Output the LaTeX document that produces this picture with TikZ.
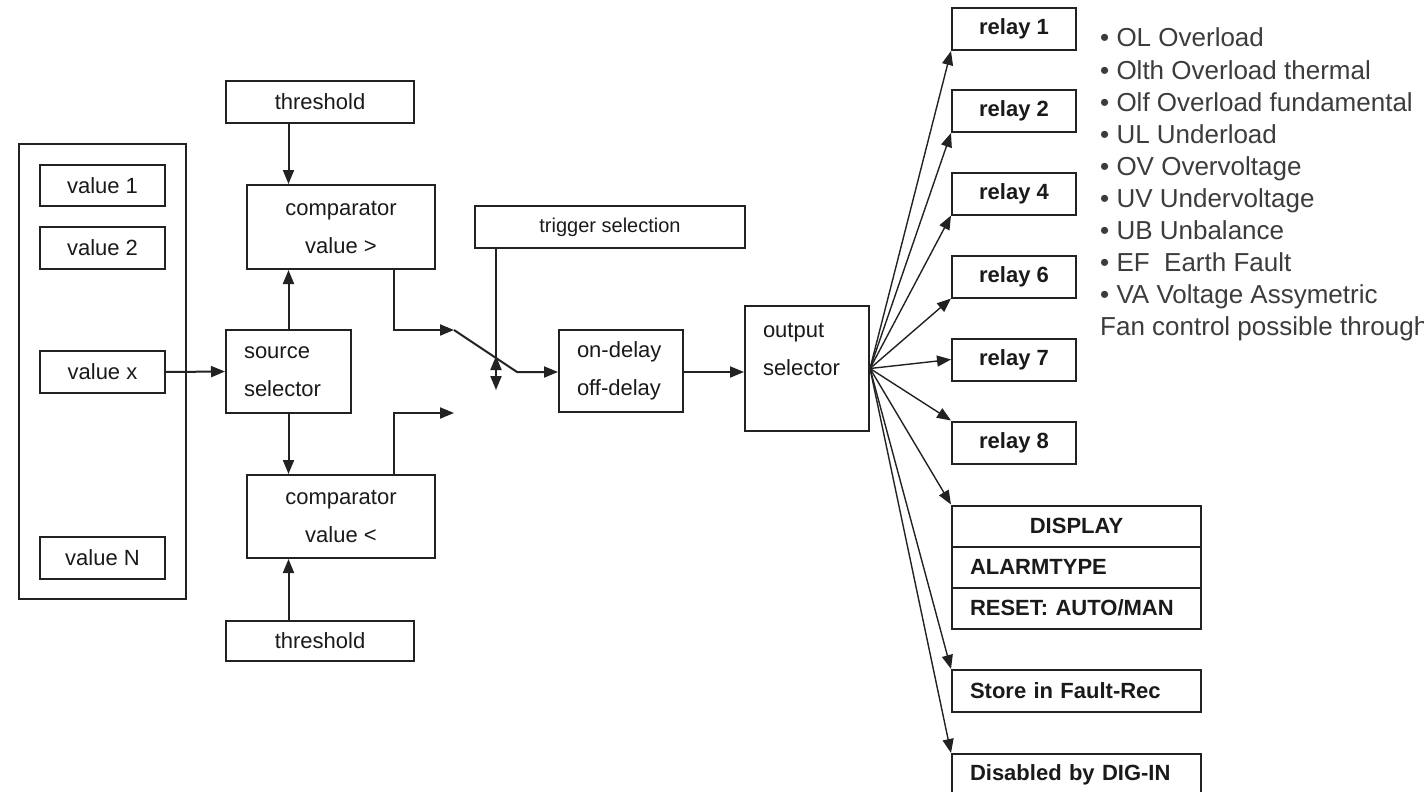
\documentclass[tikz,border=0pt]{standalone}
\usepackage{fontspec}
\setmainfont{Liberation Sans}
\usetikzlibrary{arrows.meta,calc}
\definecolor{edge}{HTML}{222222}
\definecolor{ink}{HTML}{1A1A1A}
\definecolor{listgray}{HTML}{3C3C3C}

\begin{document}
\begin{tikzpicture}[
    x=1pt, y=-1pt,
    every node/.style={font=\fontsize{22}{38}\selectfont, align=center, text=ink},
    blk/.style={draw=edge, line width=2pt, inner sep=0pt},
    leftblk/.style={blk, align=left, inner xsep=18pt, text width=#1},
    relay/.style={blk, minimum width=124pt, minimum height=42pt, font=\fontsize{22}{26}\selectfont\bfseries},
    infoblk/.style={blk, minimum width=249pt, minimum height=41pt, font=\fontsize{22}{26}\selectfont\bfseries},
    arr/.style={draw=edge, line width=2pt, -{Triangle[length=14pt, width=11pt]}},
    fan/.style={arr, line width=1.4pt},
    faultline/.style={anchor=base west, inner sep=0pt, text=listgray, font=\fontsize{26}{32}\selectfont}
]
    \useasboundingbox (0,0) rectangle (1424,792);

    % Value bank
    \node[blk, minimum width=167pt, minimum height=455pt] (bank) at (102.5,371.5) {};
    \node[blk, minimum width=125pt, minimum height=41pt] (v1) at (102.5,185.5) {value 1};
    \node[blk, minimum width=125pt, minimum height=42pt] (v2) at (102.5,248) {value 2};
    \node[blk, minimum width=125pt, minimum height=42pt] (vx) at (102.5,372) {value x};
    \node[blk, minimum width=125pt, minimum height=42pt] (vN) at (102.5,558) {value N};

    % Comparators with their thresholds
    \node[blk, minimum width=188pt, minimum height=42pt] (thrTop) at (320,102) {threshold};
    \node[blk, minimum width=188pt, minimum height=84pt] (cmpTop) at (341,227) {comparator\\value >};
    \node[leftblk=89pt, minimum height=83pt] (src) at (288.5,371.5) {source\\selector};
    \node[blk, minimum width=188pt, minimum height=83pt] (cmpBot) at (341,516.5) {comparator\\value <};
    \node[blk, minimum width=188pt, minimum height=40pt] (thrBot) at (320,641) {threshold};

    % Trigger switch and delay
    \node[blk, minimum width=270pt, minimum height=42pt, font=\fontsize{20}{24}\selectfont] (trg) at (610,227) {trigger selection};
    \node[leftblk=88pt, minimum height=82pt] (dly) at (621,371) {on-delay\\off-delay};
    \node[leftblk=88pt, minimum height=125pt] (osel) at (807,368.5) {output\\selector\\\mbox{}};
    \coordinate (swA) at (454,330);
    \coordinate (swB) at (454,413);
    \coordinate (swC) at (517,372);
    \coordinate (trgEnd) at (496,390);
    \coordinate (trgTip) at (496,356);

    % Outputs
    \foreach \n/\yc in {1/29, 2/111, 4/193.5, 6/276.5, 7/359.5, 8/442.5}
        \node[relay] (r\n) at (1014,\yc) {relay \n};
    \node[infoblk] (disp) at (1076.5,526) {DISPLAY};
    \node[infoblk, leftblk=213pt] (alarm) at (1076.5,567) {ALARMTYPE};
    \node[infoblk, leftblk=213pt] (reset) at (1076.5,608) {RESET: AUTO/MAN};
    \node[infoblk, leftblk=213pt, minimum height=42pt] (store) at (1076.5,691) {Store in Fault-Rec};
    \node[infoblk, leftblk=213pt, minimum height=42pt] (dig) at (1076.5,775) {Disabled by DIG-IN};

    % Fault list
    \foreach \txt [count=\i from 0] in {OL Overload, Olth Overload thermal, Olf Overload fundamental,
        UL Underload, OV Overvoltage, UV Undervoltage, UB Unbalance, EF\ \ Earth Fault, VA Voltage Assymetric}
        \node[faultline] (fault\i) at (1100,{47+32.1*\i}) {•\ \txt};
    \node[faultline] (fan) at (1100,{47+32.1*9}) {Fan control possible through};

    % Connections
    \draw[arr] (vx.east) -- (src.west);
    \draw[arr] (src.north |- thrTop.south) -- (src.north |- cmpTop.north);
    \draw[arr] (src.north) -- (src.north |- cmpTop.south);
    \draw[arr] (src.south) -- (src.south |- cmpBot.north);
    \draw[arr] (src.south |- thrBot.north) -- (src.south |- cmpBot.south);
    \draw[arr] ([xshift=-42pt]cmpTop.south east) |- (swA);
    \draw[arr] ([xshift=-42pt]cmpBot.north east) |- (swB);
    \draw[arr] (swA) -- (swC) -- (swC -| dly.west);
    \draw[arr] (trg.south -| trgEnd) -- (trgEnd);
    \draw[arr] (trgEnd |- swC) -- (trgTip);
    \draw[arr] (dly.east |- swC) -- (swC -| osel.west);

    % Fan-out from output selector
    \foreach \t in {r1.south west, r2.south west, r4.south west, r6.south west, r7.west,
        r8.north west, disp.north west, store.north west, dig.north west}
        \draw[fan] (osel.east) -- (\t);
\end{tikzpicture}
\end{document}
